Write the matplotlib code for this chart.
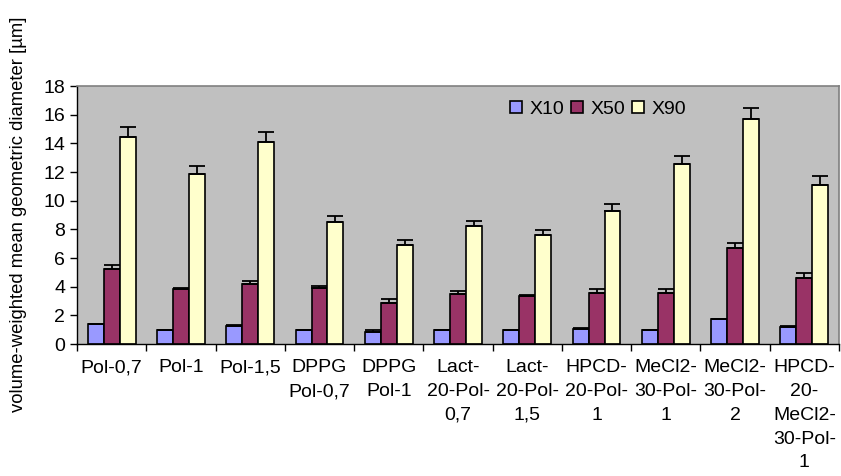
import numpy as np
import matplotlib
matplotlib.use('Agg')
import matplotlib.pyplot as plt

plt.rcParams['font.family'] = ['Liberation Sans', 'DejaVu Sans']

categories = ['Pol-0,7', 'Pol-1', 'Pol-1,5', 'DPPG\nPol-0,7', 'DPPG\nPol-1',
              'Lact-\n20-Pol-\n0,7', 'Lact-\n20-Pol-\n1,5', 'HPCD-\n20-Pol-\n1',
              'MeCl2-\n30-Pol-\n1', 'MeCl2-\n30-Pol-\n2', 'HPCD-\n20-\nMeCl2-\n30-Pol-\n1']

x10 = [1.42, 0.98, 1.25, 0.98, 0.86, 1.0, 1.0, 1.04, 1.0, 1.72, 1.21]
x10_err = [0.0, 0.0, 0.08, 0.0, 0.1, 0.0, 0.0, 0.06, 0.0, 0.0, 0.07]
x50 = [5.25, 3.82, 4.2, 3.95, 2.88, 3.48, 3.38, 3.58, 3.58, 6.71, 4.65]
x50_err = [0.28, 0.1, 0.24, 0.08, 0.25, 0.24, 0.05, 0.25, 0.25, 0.33, 0.28]
x90 = [14.45, 11.85, 14.08, 8.5, 6.95, 8.25, 7.64, 9.32, 12.54, 15.7, 11.1]
x90_err = [0.7, 0.58, 0.72, 0.47, 0.34, 0.35, 0.35, 0.46, 0.61, 0.79, 0.6]

series = [('X10', x10, x10_err, '#9999FF'),
          ('X50', x50, x50_err, '#993366'),
          ('X90', x90, x90_err, '#FFFFCC')]

fig = plt.figure(figsize=(8.41, 4.76), dpi=100)
ax = fig.add_axes([0.0916, 0.277, 0.9060, 0.542])
ax.set_facecolor('#C0C0C0')

idx = np.arange(len(categories))
w = 0.23
for k, (name, vals, errs, col) in enumerate(series):
    pos = idx + (k - 1) * w
    ax.bar(pos, vals, w, color=col, edgecolor='black', linewidth=1.2, label=name, zorder=2)
    ax.errorbar(pos, vals, yerr=[np.zeros(len(vals)), errs], fmt='none',
                ecolor='black', elinewidth=1.3, capsize=6, capthick=1.3, zorder=3)

ax.set_xlim(-0.5, len(categories) - 0.5)
ax.set_ylim(0, 18)
ax.set_yticks(range(0, 19, 2))
ax.set_xticks(np.arange(-0.5, len(categories), 1.0))
ax.set_xticklabels([])
ax.set_xticks(idx, minor=True)
ax.set_xticklabels(categories, minor=True, fontsize=14, linespacing=1.52, va='top')
ax.tick_params(axis='x', which='major', direction='out', length=5, width=1)
ax.tick_params(axis='x', which='minor', length=0, pad=11)
ax.tick_params(axis='y', direction='out', length=5, width=1, labelsize=14)

for s in ['top', 'right']:
    ax.spines[s].set_color('#808080')
    ax.spines[s].set_linewidth(1.2)
for s in ['left', 'bottom']:
    ax.spines[s].set_color('black')
    ax.spines[s].set_linewidth(1)

ax.set_ylabel('volume-weighted mean geometric diameter [µm]', fontsize=13.3)
ax.yaxis.set_label_coords(-0.066, 0.505)

ax.legend(loc='upper center', bbox_to_anchor=(0.684, 1.01), ncol=3, frameon=False,
          fontsize=14, handlelength=0.6, handleheight=0.6, handletextpad=0.4,
          columnspacing=0.35)

fig.savefig('out.png', dpi=100)
